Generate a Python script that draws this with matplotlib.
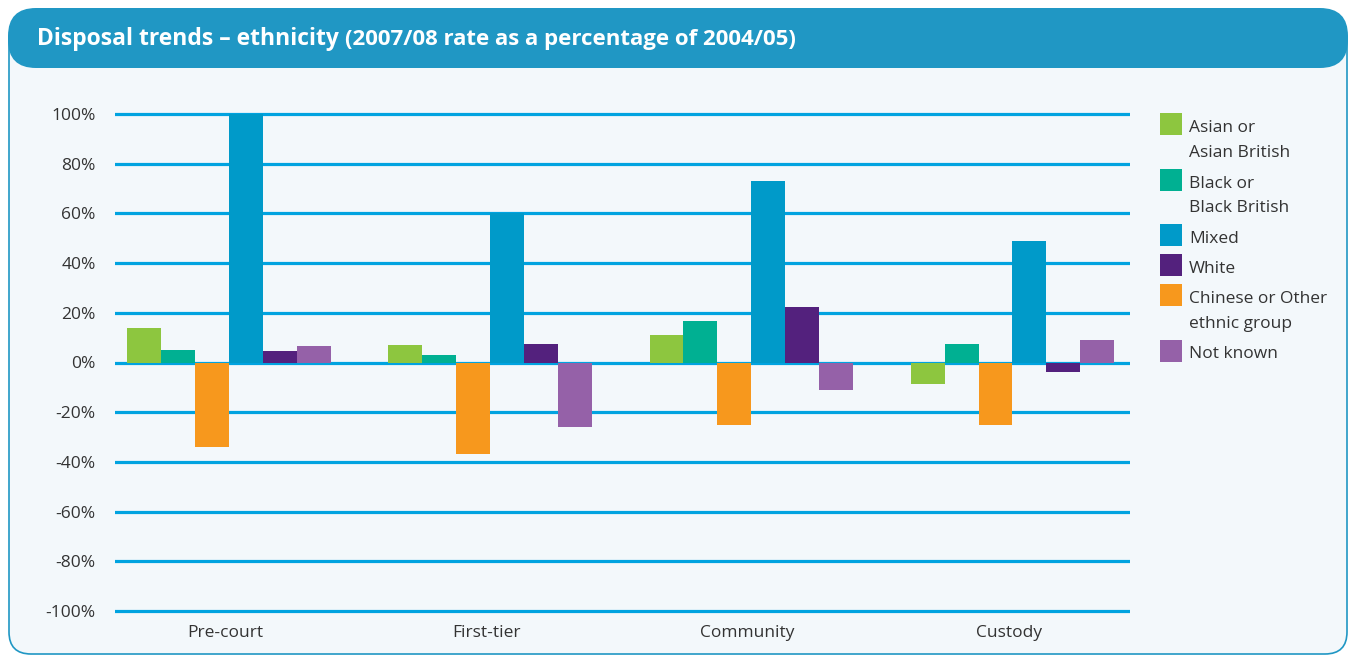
import numpy as np
import matplotlib.pyplot as plt
from matplotlib.patches import FancyBboxPatch, Rectangle

plt.rcParams['font.family'] = ['Open Sans', 'DejaVu Sans']

# données (taux 2007/08 en % de 2004/05)
categories = ['Pre-court', 'First-tier', 'Community', 'Custody']
asian = [14, 7, 11, -8.5]
black = [5, 3, 16.5, 7.5]
chinese_other = [-34, -37, -25, -25]
mixed = [100, 60, 73, 49]
white = [4.5, 7.5, 22.5, -4]
not_known = [6.5, -26, -11, 9]
y_ticks = [-100, -80, -60, -40, -20, 0, 20, 40, 60, 80, 100]

# ordre des barres dans chaque groupe
series_bars = [
    ('Asian or\nAsian British', asian, '#8dc63f'),
    ('Black or\nBlack British', black, '#00b092'),
    ('Chinese or Other\nethnic group', chinese_other, '#f7981d'),
    ('Mixed', mixed, '#009ac9'),
    ('White', white, '#53217d'),
    ('Not known', not_known, '#9561a8'),
]
# ordre de la légende
legend_order = [0, 1, 3, 4, 2, 5]

W, H = 1356, 663
fig = plt.figure(figsize=(W/100, H/100), dpi=100)
fig.patch.set_facecolor('white')

# fond : panneau + bandeau titre (coordonnées pixels)
bg = fig.add_axes([0, 0, 1, 1])
bg.set_xlim(0, W)
bg.set_ylim(H, 0)
bg.axis('off')
bg.add_patch(FancyBboxPatch((9, 20), W-18, H-29, boxstyle='round,pad=0,rounding_size=22',
                            fc='#f3f8fb', ec='#2097c4', lw=1.2))
bg.add_patch(FancyBboxPatch((8, 8), W-16, 60, boxstyle='round,pad=0,rounding_size=28',
                            fc='#2097c4', ec='none'))
bg.text(37, 39, 'Disposal trends – ethnicity', color='white', fontsize=16.5, fontweight='bold',
        va='center', ha='left')
bg.text(345, 40, '(2007/08 rate as a percentage of 2004/05)', color='white', fontsize=16,
        fontweight='bold', va='center', ha='left')

# légende manuelle, à droite
y_leg = 113
line_h = 25.5
for k in legend_order:
    name, _, col = series_bars[k]
    bg.add_patch(Rectangle((1160, y_leg), 22, 22, fc=col, ec='none'))
    bg.text(1189, y_leg + 7, name, fontsize=12.5, color='#333333', va='top', ha='left',
            linespacing=1.75)
    y_leg += name.count('\n')*line_h + line_h + 4.5

# axes principal
top_px, bot_px = 111.5, 613.5
ax = fig.add_axes([115/W, 1 - bot_px/H, (1130-115)/W, (bot_px-top_px)/H])
ax.set_facecolor('none')
for s in ax.spines.values():
    s.set_visible(False)

x = np.arange(len(categories))
width = 0.13
for i, (name, vals, col) in enumerate(series_bars):
    ax.bar(x + (i - 2.5)*width, vals, width, color=col, label=name, zorder=3)

for yv in y_ticks:
    ax.axhline(yv, color='#00a3e0', lw=2.3, zorder=1)

ax.set_ylim(-101, 101)
ax.set_xlim(-0.437, 3.45)
ax.set_yticks(y_ticks)
ax.set_yticklabels([f'{v}%' for v in y_ticks])
ax.set_xticks(x - 0.015)
ax.set_xticklabels(categories)
ax.tick_params(axis='both', length=0, labelsize=12.5, labelcolor='#333333')
ax.tick_params(axis='y', pad=14)
ax.tick_params(axis='x', pad=8)

fig.savefig('out.png', dpi=100)
